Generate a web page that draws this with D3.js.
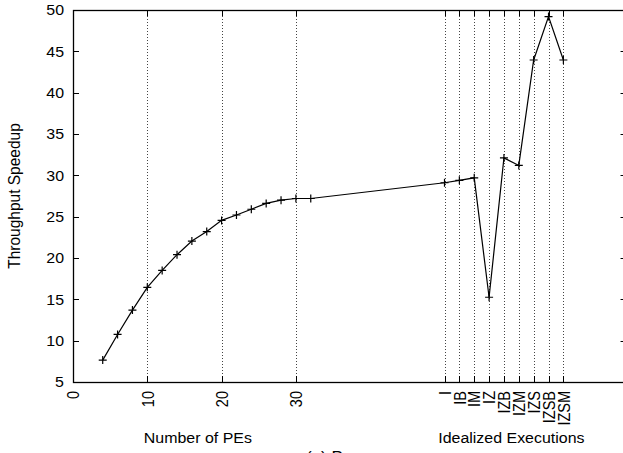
<!DOCTYPE html>
<html>
<head>
<meta charset="utf-8">
<script src="https://cdn.jsdelivr.net/npm/d3@7"></script>
<style>
  html, body { margin: 0; padding: 0; background: #fff; }
  svg { display: block; overflow: hidden; }
  text { font-family: "Liberation Sans", Arial, sans-serif; fill: #000; }
</style>
</head>
<body>
<svg id="chart" width="623" height="453"></svg>
<script>
// measured runs, number of PEs
const peCounts = [4, 6, 8, 10, 12, 14, 16, 18, 20, 22, 24, 26, 28, 30, 32];
const peSpeedup = [7.65, 10.75, 13.7, 16.45, 18.5, 20.4, 22.05, 23.2, 24.55, 25.2, 25.9, 26.6, 27.0, 27.2, 27.2];

// idealized executions, placed on the same x axis
const idealLabels = ['I', 'IB', 'IM', 'IZ', 'IZB', 'IZM', 'IZS', 'IZSB', 'IZSM'];
const idealPos = [50, 52, 54, 56, 58, 60, 62, 64, 66];
const idealSpeedup = [29.1, 29.4, 29.7, 15.25, 32.1, 31.2, 43.95, 49.2, 43.95];

const peTicks = [0, 10, 20, 30];
const yTicks = [5, 10, 15, 20, 25, 30, 35, 40, 45, 50];

function drawChart() {
  const left = 73;
  const top = 10;
  const bottom = 382;
  const unit = 7.43;
  const xMax = 74.5;
  const tickLen = 6;
  const sx = 1.1; // text in the picture is a bit wide

  const svg = d3.select('svg#chart');

  const x = d3.scaleLinear().domain([0, xMax]).range([left, left + xMax * unit]);
  const y = d3.scaleLinear().domain([5, 50]).range([bottom, top]);
  const right = x(xMax);

  // vertical grid
  const gridX = peTicks.slice(1).concat(idealPos);
  svg.append('g').selectAll('line').data(gridX).enter()
    .append('line')
    .attr('x1', (d) => Math.round(x(d)) + 0.5)
    .attr('x2', (d) => Math.round(x(d)) + 0.5)
    .attr('y1', top)
    .attr('y2', bottom)
    .attr('stroke', '#444')
    .attr('stroke-width', 1)
    .attr('stroke-dasharray', '1,2');

  // ticks, mirrored on all sides
  const tickG = svg.append('g').attr('stroke', '#000').attr('stroke-width', 1);
  yTicks.forEach((t) => {
    const yy = Math.round(y(t)) + 0.5;
    tickG.append('line').attr('x1', left).attr('x2', left + tickLen).attr('y1', yy).attr('y2', yy);
    tickG.append('line').attr('x1', right - tickLen).attr('x2', right).attr('y1', yy).attr('y2', yy);
  });
  peTicks.concat(idealPos).forEach((t) => {
    const xx = Math.round(x(t)) + 0.5;
    tickG.append('line').attr('x1', xx).attr('x2', xx).attr('y1', bottom).attr('y2', bottom - tickLen);
    tickG.append('line').attr('x1', xx).attr('x2', xx).attr('y1', top).attr('y2', top + tickLen);
  });

  // frame
  svg.append('rect')
    .attr('x', left + 0.5)
    .attr('y', top + 0.5)
    .attr('width', right - left)
    .attr('height', bottom - top)
    .attr('fill', 'none')
    .attr('stroke', '#000')
    .attr('stroke-width', 1.3);

  // y tick labels
  svg.append('g').selectAll('text').data(yTicks).enter()
    .append('text')
    .attr('transform', (d) => `translate(${left - 9}, ${y(d)}) scale(${sx}, 1)`)
    .attr('text-anchor', 'end')
    .attr('dy', '0.36em')
    .attr('font-size', '14.5px')
    .text((d) => d);

  // x tick labels, rotated
  const xLabels = peTicks.map((d) => ({ pos: d, text: String(d) }))
    .concat(idealLabels.map((d, i) => ({ pos: idealPos[i], text: d })));
  svg.append('g').selectAll('text').data(xLabels).enter()
    .append('text')
    .attr('transform', (d) => `translate(${x(d.pos) + 0.5}, 391) scale(${sx}, 1) rotate(-90)`)
    .attr('text-anchor', 'end')
    .attr('dy', '0.36em')
    .attr('font-size', '14.5px')
    .text((d) => d.text);

  // axis titles
  svg.append('text')
    .attr('transform', `translate(${x(16.8)}, 443) scale(${sx}, 1)`)
    .attr('text-anchor', 'middle')
    .attr('font-size', '14.5px')
    .text('Number of PEs');
  svg.append('text')
    .attr('transform', `translate(${x(59)}, 443) scale(${sx}, 1)`)
    .attr('text-anchor', 'middle')
    .attr('font-size', '14.5px')
    .text('Idealized Executions');
  svg.append('text')
    .attr('transform', `translate(20, ${(top + bottom) / 2}) scale(${sx}, 1) rotate(-90)`)
    .attr('text-anchor', 'middle')
    .attr('font-size', '15.5px')
    .text('Throughput Speedup');

  // caption, mostly below the visible area as in the picture
  svg.append('text')
    .attr('x', 306)
    .attr('y', 463)
    .attr('font-family', '"DejaVu Serif", "Liberation Serif", serif')
    .attr('font-size', '17px')
    .text('(a) P');

  // series
  const pts = peCounts.map((d, i) => [d, peSpeedup[i]])
    .concat(idealPos.map((d, i) => [d, idealSpeedup[i]]));
  const line = d3.line().x((d) => x(d[0])).y((d) => y(d[1]));
  svg.append('path')
    .datum(pts)
    .attr('d', line)
    .attr('fill', 'none')
    .attr('stroke', '#000')
    .attr('stroke-width', 1.2);

  const ms = 4;
  svg.append('g').selectAll('path.pt').data(pts).enter()
    .append('path')
    .attr('class', 'pt')
    .attr('d', (d) => {
      const px = x(d[0]);
      const py = y(d[1]);
      return `M${px - ms},${py}H${px + ms}M${px},${py - ms}V${py + ms}`;
    })
    .attr('stroke', '#000')
    .attr('stroke-width', 1.2);
}

drawChart();
</script>
</body>
</html>
